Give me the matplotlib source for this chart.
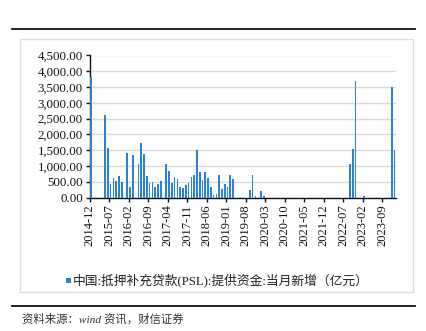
import numpy as np
import matplotlib
matplotlib.use('Agg')
from matplotlib import pyplot as plt
from matplotlib.patches import Rectangle
from matplotlib.lines import Line2D
from matplotlib.ticker import FuncFormatter


# monthly PSL funds provided, 2014-12 .. 2024-01 (100 million yuan)
psl_new = [
    3830, 0, 0, 0, 0, 2610, 1575, 425, 617, 532,            # 2014-12 .. 2015-09
    690, 500, 0, 1415, 340, 1350, 0, 1075, 1734, 1394,       # 2015-10 .. 2016-07
    690, 470, 500, 340, 415, 532, 0, 1075, 850, 470,         # 2016-08 .. 2017-05
    660, 585, 340, 310, 394, 468, 660, 723, 1510, 808,       # 2017-06 .. 2018-03
    543, 808, 628, 320, 85, 117, 723, 277, 425, 320,         # 2018-04 .. 2019-01
    723, 585, 0, 0, 0, 0, 0, 234, 723, 53,                   # 2019-02 .. 2019-11
    0, 200, 53, 0, 0, 0, 0, 0, 0, 0,                         # 2019-12 .. 2020-09
    0, 0, 0, 0, 0, 0, 0, 0, 0, 0,                            # 2020-10 .. 2021-07
    0, 0, 0, 0, 0, 0, 0, 0, 0, 0,                            # 2021-08 .. 2022-05
    0, 0, 0, 1075, 1540, 3680, 0, 0, 53, 0,                  # 2022-06 .. 2023-03
    0, 0, 0, 0, 0, 0, 0, 0, 3500, 1500,                      # 2023-04 .. 2024-01
]

tick_labels = ['2014-12', '2015-07', '2016-02', '2016-09', '2017-04', '2017-11',
               '2018-06', '2019-01', '2019-08', '2020-03', '2020-10', '2021-05',
               '2021-12', '2022-07', '2023-02', '2023-09']
tick_step = 7

series_name = '中国:抵押补充贷款(PSL):提供资金:当月新增（亿元）'
source_note = '资料来源：wind 资讯，财信证券'

y_max = 4500
y_step = 500

bar_color = '#2A82D2'
serif = ['Liberation Serif', 'Noto Sans CJK SC']


if __name__ == '__main__':
    W, H = 426, 331
    fig = plt.figure(figsize=(W / 100, H / 100), dpi=100)

    # frame lines and light chart-area border
    fig.add_artist(Line2D([12 / W, 415 / W], [1 - 29.3 / H, 1 - 29.3 / H],
                          color='#111111', lw=1.3))
    fig.add_artist(Line2D([12 / W, 415 / W], [1 - 305.7 / H, 1 - 305.7 / H],
                          color='#111111', lw=1.3))
    fig.add_artist(Rectangle((19.5 / W, 1 - 291.7 / H), (413 - 19.5) / W,
                             (291.7 - 38.5) / H, fill=False,
                             edgecolor='#DDDDDD', lw=1.0))

    ax = fig.add_axes([89.7 / W, 1 - 197.5 / H, (396 - 89.7) / W, (197.5 - 55.5) / H])

    x = np.arange(len(psl_new))
    ax.bar(x, psl_new, width=0.6, color=bar_color, zorder=5)

    ax.set_xlim(-0.5, len(psl_new) - 0.5)
    ax.set_ylim(0, y_max)
    ax.set_yticks(np.arange(0, y_max + 1, y_step))
    ax.yaxis.set_major_formatter(FuncFormatter(lambda v, p: f'{v:,.2f}'))
    ax.grid(axis='y', color='#D9D9D9', lw=1.0, zorder=0)

    ax.set_xticks(np.arange(len(tick_labels)) * tick_step - 0.5)
    ax.set_xticklabels(tick_labels, rotation=90)

    for s in ['top', 'right']:
        ax.spines[s].set_visible(False)
    for s in ['left', 'bottom']:
        ax.spines[s].set_color('#111111')
        ax.spines[s].set_linewidth(1.0)
        ax.spines[s].set_zorder(4)

    ax.tick_params(axis='both', direction='out', length=3, width=1.0,
                   color='#111111', pad=2)
    for lab in ax.get_yticklabels():
        lab.set_family(serif)
        lab.set_fontsize(9.3)
        lab.set_color('#111111')
    for lab in ax.get_xticklabels():
        lab.set_family(serif)
        lab.set_fontsize(9.0)
        lab.set_color('#111111')

    # legend
    fig.add_artist(Rectangle((65.5 / W, 1 - 282.5 / H), 5 / W, 5 / H,
                             facecolor=bar_color, edgecolor='none'))
    fig.text(73 / W, 1 - 280 / H, series_name, family=serif, fontsize=9.2,
             color='#222222', va='center', ha='left')

    fig.text(22 / W, 1 - 319 / H, source_note, family=['Liberation Serif', 'Noto Sans CJK SC'],
             style='italic', fontsize=8.2, color='#333333', va='center', ha='left')

    plt.savefig('out.png', dpi=100)
